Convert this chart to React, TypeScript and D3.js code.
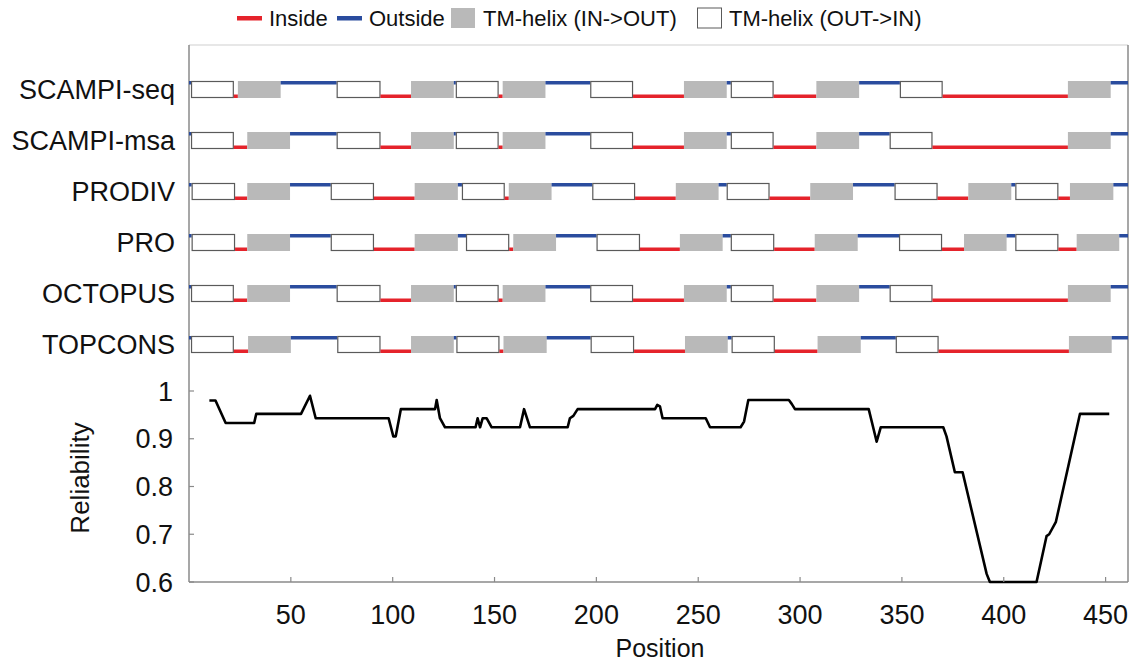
import React from 'react';
import * as d3 from 'd3';

// topology per predictor: [start, end, kind]
// i = inside, o = outside, io = TM-helix (IN->OUT), oi = TM-helix (OUT->IN)
type Seg = [number, number, string];

const predictors = ['SCAMPI-seq', 'SCAMPI-msa', 'PRODIV', 'PRO', 'OCTOPUS', 'TOPCONS'];

const scampiSeq: Seg[] = [
  [0, 1, 'o'], [1, 22, 'oi'], [22, 24, 'i'], [24, 45, 'io'], [45, 72.5, 'o'], [72.5, 94, 'oi'],
  [94, 109, 'i'], [109, 130, 'io'], [130, 131, 'o'], [131, 152, 'oi'], [152, 154, 'i'],
  [154, 175, 'io'], [175, 197, 'o'], [197, 218, 'oi'], [218, 243, 'i'], [243, 264, 'io'],
  [264, 266, 'o'], [266, 287, 'oi'], [287, 308, 'i'], [308, 329, 'io'], [329, 349, 'o'],
  [349, 370, 'oi'], [370, 431.5, 'i'], [431.5, 452.5, 'io'], [452.5, 461, 'o'],
];
const scampiMsa: Seg[] = [
  [0, 1, 'o'], [1, 22, 'oi'], [22, 28.6, 'i'], [28.6, 49.6, 'io'], [49.6, 72.5, 'o'], [72.5, 94, 'oi'],
  [94, 109, 'i'], [109, 130, 'io'], [130, 131, 'o'], [131, 152, 'oi'], [152, 154, 'i'],
  [154, 175, 'io'], [175, 197, 'o'], [197, 218, 'oi'], [218, 243, 'i'], [243, 264, 'io'],
  [264, 266, 'o'], [266, 287, 'oi'], [287, 308, 'i'], [308, 329, 'io'], [329, 344, 'o'],
  [344, 365, 'oi'], [365, 431.5, 'i'], [431.5, 452.5, 'io'], [452.5, 461, 'o'],
];
const prodiv: Seg[] = [
  [0, 1.3, 'o'], [1.3, 22.6, 'oi'], [22.6, 28.6, 'i'], [28.6, 49.6, 'io'], [49.6, 69.6, 'o'],
  [69.6, 90.8, 'oi'], [90.8, 110.8, 'i'], [110.8, 132, 'io'], [132, 134, 'o'], [134, 155, 'oi'],
  [155, 157, 'i'], [157, 178, 'io'], [178, 198, 'o'], [198, 219, 'oi'], [219, 239, 'i'],
  [239, 260, 'io'], [260, 264, 'o'], [264, 285, 'oi'], [285, 305, 'i'], [305, 326, 'io'],
  [326, 346.4, 'o'], [346.4, 367.5, 'oi'], [367.5, 382.6, 'i'], [382.6, 403.7, 'io'],
  [403.7, 405.7, 'o'], [405.7, 426.8, 'oi'], [426.8, 432.5, 'i'], [432.5, 453.8, 'io'], [453.8, 461, 'o'],
];
const pro: Seg[] = [
  [0, 1.3, 'o'], [1.3, 22.6, 'oi'], [22.6, 28.6, 'i'], [28.6, 49.6, 'io'], [49.6, 69.6, 'o'],
  [69.6, 90.8, 'oi'], [90.8, 110.8, 'i'], [110.8, 132, 'io'], [132, 136, 'o'], [136, 157.2, 'oi'],
  [157.2, 159.2, 'i'], [159.2, 180.2, 'io'], [180.2, 200.1, 'o'], [200.1, 221.4, 'oi'],
  [221.4, 241, 'i'], [241, 262, 'io'], [262, 266, 'o'], [266, 287.3, 'oi'], [287.3, 307.2, 'i'],
  [307.2, 328.3, 'io'], [328.3, 348.6, 'o'], [348.6, 369.7, 'oi'], [369.7, 380.5, 'i'],
  [380.5, 401.4, 'io'], [401.4, 405.7, 'o'], [405.7, 426.8, 'oi'], [426.8, 435.8, 'i'],
  [435.8, 456.7, 'io'], [456.7, 461, 'o'],
];
const octopus: Seg[] = [
  [0, 1, 'o'], [1, 22, 'oi'], [22, 28.6, 'i'], [28.6, 49.6, 'io'], [49.6, 72.5, 'o'], [72.5, 94, 'oi'],
  [94, 109, 'i'], [109, 130, 'io'], [130, 131, 'o'], [131, 152, 'oi'], [152, 154, 'i'],
  [154, 175, 'io'], [175, 197, 'o'], [197, 218, 'oi'], [218, 243, 'i'], [243, 264, 'io'],
  [264, 266, 'o'], [266, 287, 'oi'], [287, 308, 'i'], [308, 329, 'io'], [329, 344, 'o'],
  [344, 365, 'oi'], [365, 431.5, 'i'], [431.5, 452.5, 'io'], [452.5, 461, 'o'],
];
const topcons: Seg[] = [
  [0, 1, 'o'], [1, 22, 'oi'], [22, 29, 'i'], [29, 50, 'io'], [50, 72.8, 'o'], [72.8, 94, 'oi'],
  [94, 109, 'i'], [109, 130, 'io'], [130, 131.3, 'o'], [131.3, 152.4, 'oi'], [152.4, 154.4, 'i'],
  [154.4, 175.6, 'io'], [175.6, 197.2, 'o'], [197.2, 218.5, 'oi'], [218.5, 243.5, 'i'],
  [243.5, 264.5, 'io'], [264.5, 266.4, 'o'], [266.4, 287.6, 'oi'], [287.6, 308.6, 'i'],
  [308.6, 329.8, 'io'], [329.8, 347, 'o'], [347, 368, 'oi'], [368, 432, 'i'], [432, 453, 'io'],
  [453, 461, 'o'],
];
const topologies = [scampiSeq, scampiMsa, prodiv, pro, octopus, topcons];

const relPositions = [
  10, 13, 18, 32, 33, 55, 59.4, 62.2, 98, 100.3, 101.5, 104, 120.8, 121.6, 123.2, 125.7,
  140.7, 141.7, 142.9, 144.2, 146.1, 148.6, 162.5, 164.5, 167.4, 185.9, 187, 188.7, 190.8,
  228.8, 229.9, 231.2, 232.5, 253.7, 255.8, 270.8, 272.5, 274.6, 294.5, 295.9, 297.5, 333.7,
  336, 337.6, 339.6, 370.3, 371.9, 376, 379.8, 391.6, 393.2, 416.1, 421, 422.3, 425.6, 437.4, 451.8,
];
const relValues = [
  0.98, 0.98, 0.933, 0.933, 0.952, 0.952, 0.99, 0.943, 0.943, 0.905, 0.905, 0.962, 0.962, 0.981,
  0.943, 0.924, 0.924, 0.943, 0.924, 0.943, 0.943, 0.924, 0.924, 0.962, 0.924, 0.924, 0.943, 0.948,
  0.962, 0.962, 0.971, 0.968, 0.943, 0.943, 0.924, 0.924, 0.936, 0.981, 0.981, 0.973, 0.962, 0.962,
  0.922, 0.894, 0.924, 0.924, 0.905, 0.83, 0.83, 0.617, 0.6, 0.6, 0.696, 0.7, 0.726, 0.952, 0.952,
];

const xTicks = [50, 100, 150, 200, 250, 300, 350, 400, 450];
const yTicks = [0.6, 0.7, 0.8, 0.9, 1];

const legendItems = [
  { label: 'Inside', kind: 'i' },
  { label: 'Outside', kind: 'o' },
  { label: 'TM-helix (IN->OUT)', kind: 'io' },
  { label: 'TM-helix (OUT->IN)', kind: 'oi' },
];

const RED = '#e5232b';
const BLUE = '#2a4c9e';
const GRAY = '#b9b9b9';
const EDGE = '#5a5a5a';
const AXIS = '#8a8a8a';
const FONT = '"Liberation Sans", Arial, Helvetica, sans-serif';

export default function App() {
  const width = 1139;
  const height = 666;
  const left = 189;
  const right = 1128;
  const top = 45;
  const bottom = 582;

  const x = d3.scaleLinear().domain([0, 461]).range([left, right]);
  const y = d3.scaleLinear().domain([0.6, 1]).range([bottom, 391]);
  const row = d3.scalePoint<string>().domain(predictors).range([89.5, 344.5]);
  const boxH = 17;
  const lineW = 3.5;

  const line = d3
    .line<number>()
    .x((_, i) => x(relPositions[i]))
    .y((d) => y(d));

  const legendX = [237, 337, 451, 697];

  return (
    <svg
      width={width}
      height={height}
      style={{ position: 'absolute', left: 0, top: 0, background: '#fff' }}
      fontFamily={FONT}
    >
      {/* legend */}
      {legendItems.map((it, i) => (
        <g key={it.label} transform={`translate(${legendX[i]},18)`}>
          {it.kind === 'i' || it.kind === 'o' ? (
            <rect x={0} y={-2} width={25} height={4.5} fill={it.kind === 'i' ? RED : BLUE} />
          ) : (
            <rect
              x={it.kind === 'io' ? 0 : 0.5}
              y={-10}
              width={24}
              height={20}
              fill={it.kind === 'io' ? GRAY : '#fff'}
              stroke={it.kind === 'io' ? 'none' : EDGE}
              strokeWidth={1}
            />
          )}
          <text x={32} y={7.5} fontSize={22} fill="#111">
            {it.label}
          </text>
        </g>
      ))}

      {/* frame */}
      <line x1={left} x2={right} y1={top} y2={top} stroke="#cfcfcf" strokeWidth={1} />
      <line x1={left} x2={left} y1={top} y2={bottom} stroke={AXIS} strokeWidth={1.5} />
      <line x1={right} x2={right} y1={top} y2={bottom} stroke={AXIS} strokeWidth={1.5} />
      <line x1={left} x2={right} y1={bottom} y2={bottom} stroke={AXIS} strokeWidth={1.5} />

      {/* topology tracks */}
      {predictors.map((name, r) => {
        const cy = row(name)!;
        const y0 = cy - boxH / 2;
        return (
          <g key={name}>
            <text x={175} y={cy + 9.5} textAnchor="end" fontSize={27} fill="#111">
              {name}
            </text>
            {topologies[r].map(([s, e, k], j) => {
              const x0 = x(s);
              const w = x(e) - x(s);
              if (k === 'i')
                return <rect key={j} x={x0} y={y0 + boxH - lineW} width={w} height={lineW} fill={RED} />;
              if (k === 'o')
                return <rect key={j} x={x0} y={y0} width={w} height={lineW} fill={BLUE} />;
              if (k === 'io')
                return <rect key={j} x={x0} y={y0} width={w} height={boxH} fill={GRAY} />;
              return (
                <rect key={j} x={x0 + 0.5} y={y0 + 0.5} width={w - 1} height={boxH - 1} fill="#fff" stroke={EDGE} strokeWidth={1.2} />
              );
            })}
          </g>
        );
      })}

      {/* reliability */}
      <path d={line(relValues) ?? ''} fill="none" stroke="#000" strokeWidth={2.6} strokeLinejoin="round" />

      {yTicks.map((t) => (
        <g key={t}>
          <line x1={left} x2={left + 5} y1={y(t)} y2={y(t)} stroke={AXIS} strokeWidth={1.2} />
          <text x={173} y={y(t) + 9.5} textAnchor="end" fontSize={27} fill="#111">
            {t === 1 ? '1' : t.toFixed(1)}
          </text>
        </g>
      ))}
      {xTicks.map((t) => (
        <g key={t}>
          <line x1={x(t)} x2={x(t)} y1={bottom} y2={bottom - 5} stroke={AXIS} strokeWidth={1.2} />
          <text x={x(t)} y={624} textAnchor="middle" fontSize={27} fill="#111">
            {t}
          </text>
        </g>
      ))}
      <text x={660} y={657} textAnchor="middle" fontSize={25} fill="#111">
        Position
      </text>
      <text transform="translate(89,478) rotate(-90)" textAnchor="middle" fontSize={26} fill="#111">
        Reliability
      </text>
    </svg>
  );
}
